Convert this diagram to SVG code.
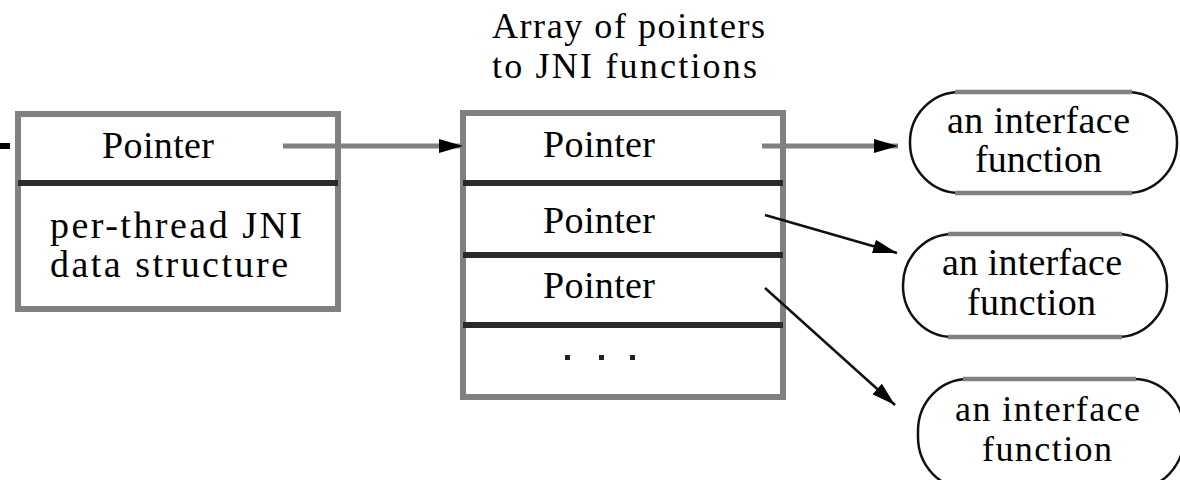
<svg xmlns="http://www.w3.org/2000/svg" width="1180" height="480" viewBox="0 0 1180 480">
<style>
.t{font-size:38px}
.s{font-size:36px}
.lbl{font-size:36px}
.outer{fill:#fff;stroke:#808080;stroke-width:6}
.div{stroke:#2a2a2a;stroke-width:6}
.gl{stroke:#808080;stroke-width:5;fill:none}
.bl{stroke:#111;stroke-width:2.5;fill:none}
.side{fill:#fff;stroke:#111;stroke-width:2.5}
.edge{stroke:#808080;stroke-width:4.5}
</style>
<defs>
<marker id="ah" markerUnits="userSpaceOnUse" markerWidth="26" markerHeight="16" refX="24" refY="8" orient="auto" viewBox="0 0 26 16">
<path d="M0,1 L24,8 L0,15 Z" fill="#000"/>
</marker>
</defs>
<g id="thread-struct" font-family="'Liberation Serif', Tinos, 'DejaVu Serif', serif">
<rect class="outer" x="18" y="114" width="320" height="195"/>
<line class="div" x1="18" y1="183" x2="338" y2="183"/>
<text class="t" x="102" y="158" textLength="112" lengthAdjust="spacing">Pointer</text>
<text class="t" x="50" y="238" textLength="252" lengthAdjust="spacing">per-thread JNI</text>
<text class="t" x="50" y="277" textLength="238" lengthAdjust="spacing">data structure</text>
</g>
<g id="array" font-family="'Liberation Serif', Tinos, 'DejaVu Serif', serif">
<text class="lbl" x="492" y="38" textLength="273" lengthAdjust="spacing">Array of pointers</text>
<text class="lbl" x="492" y="78" textLength="265" lengthAdjust="spacing">to  JNI functions</text>
<rect class="outer" x="463" y="113" width="320" height="284"/>
<line class="div" x1="463" y1="183" x2="783" y2="183"/>
<line class="div" x1="463" y1="255" x2="783" y2="255"/>
<line class="div" x1="463" y1="325" x2="783" y2="325"/>
<text class="t" x="543" y="157" textLength="112" lengthAdjust="spacing">Pointer</text>
<text class="t" x="543" y="233" textLength="112" lengthAdjust="spacing">Pointer</text>
<text class="t" x="543" y="298" textLength="112" lengthAdjust="spacing">Pointer</text>
<rect x="565" y="355" width="5" height="5" fill="#222"/>
<rect x="599" y="355" width="5" height="5" fill="#222"/>
<rect x="630" y="355" width="5" height="5" fill="#222"/>
</g>
<g id="func1" font-family="'Liberation Serif', Tinos, 'DejaVu Serif', serif">
<rect class="side" x="910" y="92" width="267" height="101" rx="50" ry="50"/>
<line class="edge" x1="955" y1="92" x2="1132" y2="92"/>
<line class="edge" x1="955" y1="193" x2="1132" y2="193"/>
<text class="t" x="947" y="133" textLength="183" lengthAdjust="spacing">an interface</text>
<text class="t" x="975" y="172" textLength="127" lengthAdjust="spacing">function</text>
</g>
<g id="func2" font-family="'Liberation Serif', Tinos, 'DejaVu Serif', serif">
<rect class="side" x="903" y="234" width="264" height="103" rx="50" ry="51"/>
<line class="edge" x1="948" y1="234" x2="1122" y2="234"/>
<line class="edge" x1="948" y1="337" x2="1122" y2="337"/>
<text class="t" x="942" y="275" textLength="180" lengthAdjust="spacing">an interface</text>
<text class="t" x="967" y="315" textLength="129" lengthAdjust="spacing">function</text>
</g>
<g id="func3" font-family="'Liberation Serif', Tinos, 'DejaVu Serif', serif">
<rect class="side" x="918" y="379" width="266" height="110" rx="50" ry="52"/>
<line class="edge" x1="963" y1="379" x2="1136" y2="379"/>
<text class="s" x="955" y="421" textLength="185" lengthAdjust="spacing">an interface</text>
<text class="s" x="982" y="461" textLength="130" lengthAdjust="spacing">function</text>
</g>
<g id="connectors">
<line x1="0" y1="146" x2="10" y2="146" stroke="#000" stroke-width="6"/>
<line class="gl" x1="283" y1="146" x2="463" y2="146" marker-end="url(#ah)"/>
<line class="gl" x1="762" y1="146" x2="898" y2="146" marker-end="url(#ah)"/>
<line class="bl" x1="765" y1="215" x2="897" y2="253" marker-end="url(#ah)"/>
<line class="bl" x1="765" y1="288" x2="895" y2="405" marker-end="url(#ah)"/>
</g>
</svg>
